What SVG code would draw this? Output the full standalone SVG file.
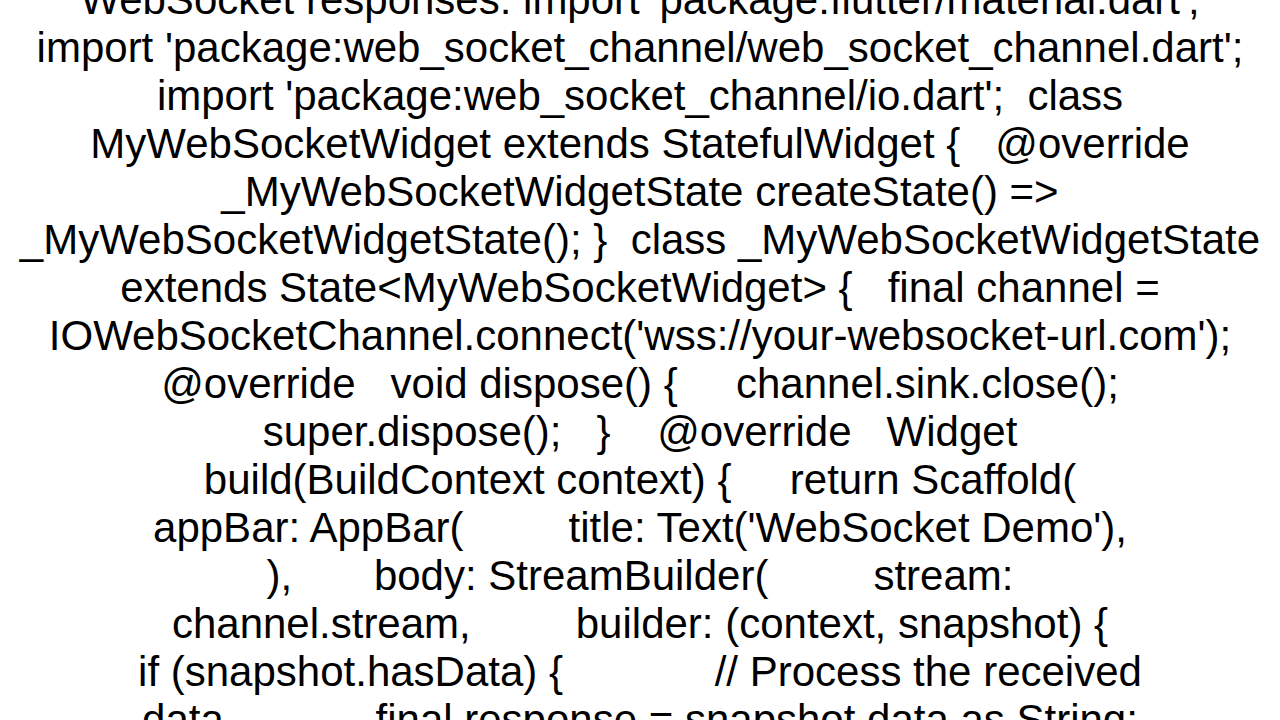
<svg xmlns="http://www.w3.org/2000/svg" width="1280" height="720" viewBox="0 0 1280 720">
<style>
text{font-family:"Liberation Sans",Arial,sans-serif;font-size:42px;fill:#000;text-anchor:middle;white-space:pre}
</style>
<rect width="1280" height="720" fill="#fff"/>
<g id="code" xml:space="preserve">
<text x="640" y="14">WebSocket responses: import 'package:flutter/material.dart';</text>
<text x="640" y="62">import 'package:web_socket_channel/web_socket_channel.dart';</text>
<text x="640" y="110">import 'package:web_socket_channel/io.dart';  class</text>
<text x="640" y="158">MyWebSocketWidget extends StatefulWidget {   @override</text>
<text x="640" y="206">_MyWebSocketWidgetState createState() =&gt;</text>
<text x="640" y="254">_MyWebSocketWidgetState(); }  class _MyWebSocketWidgetState</text>
<text x="640" y="302">extends State&lt;MyWebSocketWidget&gt; {   final channel =</text>
<text x="640" y="350">IOWebSocketChannel.connect('wss://your-websocket-url.com');</text>
<text x="640" y="398">@override   void dispose() {     channel.sink.close();</text>
<text x="640" y="446">super.dispose();   }    @override   Widget</text>
<text x="640" y="494">build(BuildContext context) {     return Scaffold(</text>
<text x="640" y="542">appBar: AppBar(         title: Text('WebSocket Demo'),</text>
<text x="640" y="590">),       body: StreamBuilder(         stream:</text>
<text x="640" y="638">channel.stream,         builder: (context, snapshot) {</text>
<text x="640" y="686">if (snapshot.hasData) {             // Process the received</text>
<text x="640" y="734">data             final response = snapshot.data as String;</text>
</g>
</svg>
